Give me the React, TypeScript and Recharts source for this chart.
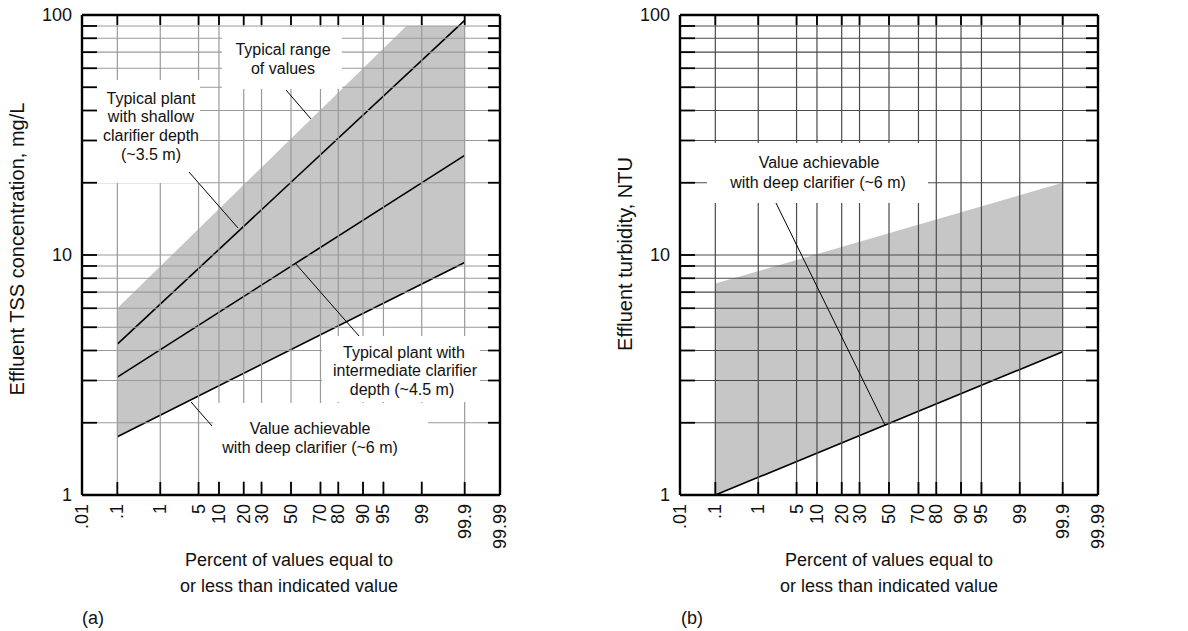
import React from "react";
import { Area, ComposedChart, Line, XAxis, YAxis } from "recharts";

// probability axis ticks (percent)
const probTicks = [0.01, 0.1, 1, 5, 10, 20, 30, 50, 70, 80, 90, 95, 99, 99.9, 99.99];
const probLabels = [".01", ".1", "1", "5", "10", "20", "30", "50", "70", "80", "90", "95", "99", "99.9", "99.99"];
// log axis ticks
const logTicks = [1, 2, 3, 4, 5, 6, 7, 8, 9, 10, 20, 30, 40, 50, 60, 70, 80, 90, 100];
const logLabels = [1, 10, 100];

// (a) effluent TSS, mg/L
const tssShallow = [
  { pct: 0.1, val: 4.25 },
  { pct: 99.9, val: 95 },
];
const tssIntermediate = [
  { pct: 0.1, val: 3.1 },
  { pct: 99.9, val: 26 },
];
const tssDeep = [
  { pct: 0.1, val: 1.75 },
  { pct: 99.9, val: 9.3 },
];
const tssRangeTop = [
  { pct: 0.1, val: 6 },
  { pct: 98, val: 90 },
  { pct: 99.9, val: 90 },
];

// (b) effluent turbidity, NTU
const ntuDeep = [
  { pct: 0.1, val: 1.0 },
  { pct: 99.9, val: 3.95 },
];
const ntuRangeTop = [
  { pct: 0.1, val: 7.6 },
  { pct: 99.9, val: 20 },
];

// inverse normal cdf (Acklam) -> probability paper
function probit(p: number): number {
  const a = [-39.69683028665376, 220.9460984245205, -275.9285104469687, 138.357751867269, -30.66479806614716, 2.506628277459239];
  const b = [-54.47609879822406, 161.5858368580409, -155.6989798598866, 66.80131188771972, -13.28068155288572];
  const c = [-0.007784894002430293, -0.3223964580411365, -2.400758277161838, -2.549732539343734, 4.374664141464968, 2.938163982698783];
  const d = [0.007784695709041462, 0.3224671290700398, 2.445134137142996, 3.754408661907416];
  const lo = 0.02425;
  if (p < lo || p > 1 - lo) {
    const q = Math.sqrt(-2 * Math.log(p < lo ? p : 1 - p));
    const v = (((((c[0] * q + c[1]) * q + c[2]) * q + c[3]) * q + c[4]) * q + c[5]) / ((((d[0] * q + d[1]) * q + d[2]) * q + d[3]) * q + 1);
    return p < lo ? v : -v;
  }
  const q = p - 0.5;
  const r = q * q;
  return ((((((a[0] * r + a[1]) * r + a[2]) * r + a[3]) * r + a[4]) * r + a[5]) * q) / (((((b[0] * r + b[1]) * r + b[2]) * r + b[3]) * r + b[4]) * r + 1);
}
const toZ = (pct: number) => probit(pct / 100);
const withZ = (rows: { pct: number; val: number }[]) => rows.map((r) => ({ z: toZ(r.pct), val: r.val }));
const zTicks = probTicks.map(toZ);
const zDomain = [toZ(0.01), toZ(99.99)];

const W = 520;
const H = 631;
const P = { left: 82, right: 500, top: 15, bottom: 495 };
const FONT = "'Liberation Sans', Arial, sans-serif";
const SHADE = "#c6c6c6";

function Panel({ lines, top, low, grid }: { lines: any[][]; top: any[]; low: any[]; grid: string }) {
  const yTick = (props: any) => {
    const { y, payload } = props;
    const v = payload.value;
    const edge = v === 1 || v === 100;
    return (
      <g>
        {!edge && <line x1={P.left} x2={P.right} y1={y} y2={y} stroke={grid} strokeWidth={1.2} />}
        {!edge && <line x1={P.left} x2={P.left + 15} y1={y} y2={y} stroke="#000" strokeWidth={1.8} />}
        {!edge && <line x1={P.right - 12} x2={P.right} y1={y} y2={y} stroke="#000" strokeWidth={1.8} />}
        {logLabels.includes(v) && (
          <text x={P.left - 10} y={y} textAnchor="end" dominantBaseline="central" fontSize={18} fill="#111" fontFamily={FONT}>
            {v}
          </text>
        )}
      </g>
    );
  };
  const xTick = (props: any) => {
    const { x, index } = props;
    const edge = index === 0 || index === probTicks.length - 1;
    return (
      <g>
        {!edge && <line x1={x} x2={x} y1={P.top} y2={P.bottom} stroke={grid} strokeWidth={1.2} />}
        {!edge && <line x1={x} x2={x} y1={P.bottom - 13} y2={P.bottom} stroke="#000" strokeWidth={1.8} />}
        {!edge && <line x1={x} x2={x} y1={P.top} y2={P.top + 10} stroke="#000" strokeWidth={1.8} />}
        <text
          transform={`translate(${x},${P.bottom + 9}) rotate(-90)`}
          textAnchor="end"
          dominantBaseline="central"
          fontSize={18}
          fill="#111"
          fontFamily={FONT}
        >
          {probLabels[index]}
        </text>
      </g>
    );
  };
  const frame = { stroke: "#000", strokeWidth: 2.4 };
  return (
    <ComposedChart width={W} height={H} margin={{ top: P.top, right: W - P.right, left: 0, bottom: 76 }}>
      <Area data={withZ(top)} dataKey={(d: any) => [1, d.val]} yAxisId="l" stroke="none" fill={SHADE} fillOpacity={1} isAnimationActive={false} />
      <Area data={withZ(low)} dataKey={(d: any) => [1, d.val]} yAxisId="l" stroke="none" fill="#fff" fillOpacity={1} isAnimationActive={false} />
      <XAxis
        dataKey="z"
        type="number"
        domain={zDomain}
        allowDataOverflow
        ticks={zTicks}
        interval={0}
        height={60}
        tickSize={0}
        tickMargin={0}
        tickLine={false}
        axisLine={frame}
        tick={xTick}
      />
      <XAxis xAxisId="top" orientation="top" mirror type="number" domain={zDomain} allowDataOverflow tick={false} tickLine={false} axisLine={frame} />
      <YAxis
        yAxisId="l"
        scale="log"
        type="number"
        domain={[1, 100]}
        allowDataOverflow
        ticks={logTicks}
        interval={0}
        width={P.left}
        tickSize={0}
        tickMargin={0}
        tickLine={false}
        axisLine={frame}
        tick={yTick}
      />
      <YAxis yAxisId="r" orientation="right" mirror scale="log" type="number" domain={[1, 100]} allowDataOverflow tick={false} tickLine={false} axisLine={frame} />
      {lines.map((rows, i) => (
        <Line key={i} data={withZ(rows)} dataKey="val" yAxisId="l" stroke="#000" strokeWidth={1.6} dot={false} isAnimationActive={false} />
      ))}
    </ComposedChart>
  );
}

type Note = { box?: [number, number, number, number]; lines: [string, number, number][]; leader?: [number, number, number, number] };

const notesA: Note[] = [
  { box: [222, 27, 342, 89], lines: [["Typical range", 283, 49], ["of values", 283, 68]], leader: [286, 90, 311, 119] },
  {
    box: [97, 80, 200, 183],
    lines: [["Typical plant", 151, 98], ["with shallow", 151, 116], ["clarifier depth", 151, 135], ["(~3.5 m)", 151, 154]],
    leader: [189, 172, 238, 228],
  },
  {
    box: [322, 336, 480, 402],
    lines: [["Typical plant with", 404, 352], ["intermediate clarifier", 405, 370], ["depth (~4.5 m)", 402, 389]],
    leader: [295, 263, 359, 336],
  },
  { box: [213, 403, 428, 481], lines: [["Value achievable", 310, 428], ["with deep clarifier (~6 m)", 310, 447]], leader: [191, 402, 212, 426] },
];
const notesB: Note[] = [
  { box: [707, 143, 928, 203], lines: [["Value achievable", 819, 162], ["with deep clarifier (~6 m)", 818, 182]], leader: [776, 203, 885, 425] },
];

function Overlay() {
  const notes = [...notesA, ...notesB];
  const txt = { fill: "#111", fontFamily: FONT, dominantBaseline: "central" as const, textAnchor: "middle" as const };
  return (
    <svg width={1188} height={631} style={{ position: "absolute", left: 0, top: 0, pointerEvents: "none" }}>
      {notes.map((n, i) => n.box && <rect key={"b" + i} x={n.box[0]} y={n.box[1]} width={n.box[2] - n.box[0]} height={n.box[3] - n.box[1]} fill="#fff" />)}
      {notes.map((n, i) => n.leader && <line key={"l" + i} x1={n.leader[0]} y1={n.leader[1]} x2={n.leader[2]} y2={n.leader[3]} stroke="#000" strokeWidth={1} />)}
      {notes.map((n, i) =>
        n.lines.map(([s, x, y], j) => (
          <text key={`t${i}-${j}`} x={x} y={y} fontSize={16} {...txt}>
            {s}
          </text>
        ))
      )}
      {[289, 889].map((cx) => (
        <g key={cx}>
          <text x={cx} y={560} fontSize={18} {...txt}>Percent of values equal to</text>
          <text x={cx} y={586} fontSize={18} {...txt}>or less than indicated value</text>
        </g>
      ))}
      <text x={93} y={618} fontSize={18} {...txt}>(a)</text>
      <text x={692} y={618} fontSize={18} {...txt}>(b)</text>
      <text transform="translate(17,249) rotate(-90)" fontSize={20} {...txt}>Effluent TSS concentration, mg/L</text>
      <text transform="translate(625,254) rotate(-90)" fontSize={20} {...txt}>Effluent turbidity, NTU</text>
    </svg>
  );
}

export default function App() {
  return (
    <div style={{ position: "absolute", left: 0, top: 0, width: 1188, height: 631, background: "#fff", fontFamily: FONT }}>
      <div style={{ position: "absolute", left: 0, top: 0 }}>
        <Panel lines={[tssShallow, tssIntermediate, tssDeep]} top={tssRangeTop} low={tssDeep} grid="#9a9a9a" />
      </div>
      <div style={{ position: "absolute", left: 598, top: 0 }}>
        <Panel lines={[ntuDeep]} top={ntuRangeTop} low={ntuDeep} grid="#4a4a4a" />
      </div>
      <Overlay />
    </div>
  );
}
